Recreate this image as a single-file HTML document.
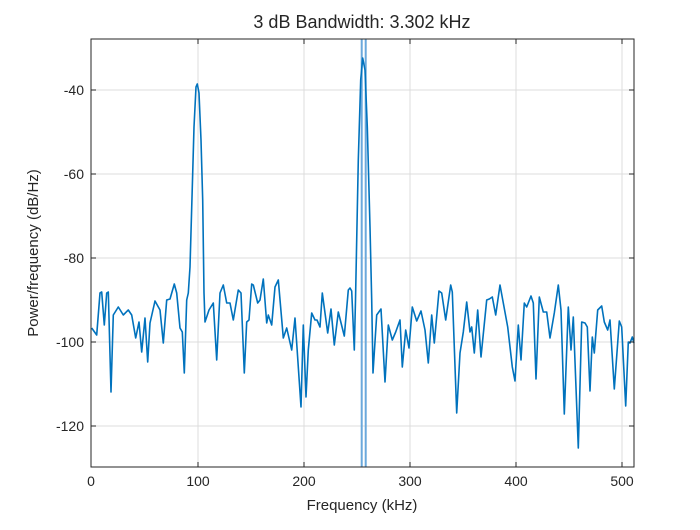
<!DOCTYPE html>
<html><head><style>
body{margin:0;background:#fff;}
svg text{font-family:"Liberation Sans",sans-serif;fill:#262626;}
</style></head><body>
<svg width="700" height="525" viewBox="0 0 700 525" xmlns="http://www.w3.org/2000/svg">
<rect width="700" height="525" fill="#fff"/>
<g stroke="#dcdcdc" stroke-width="1">
<line x1="198" y1="39" x2="198" y2="467"/><line x1="304" y1="39" x2="304" y2="467"/>
<line x1="410" y1="39" x2="410" y2="467"/><line x1="516" y1="39" x2="516" y2="467"/>
<line x1="622" y1="39" x2="622" y2="467"/>
<line x1="91" y1="90" x2="634" y2="90"/><line x1="91" y1="174" x2="634" y2="174"/>
<line x1="91" y1="258" x2="634" y2="258"/><line x1="91" y1="342" x2="634" y2="342"/>
<line x1="91" y1="426" x2="634" y2="426"/>
</g>
<g stroke="#6aa8dc" stroke-width="2">
<line x1="361.7" y1="39" x2="361.7" y2="467"/><line x1="365.7" y1="39" x2="365.7" y2="467"/>
</g>
<polyline fill="none" stroke="#0072BD" stroke-width="1.6" stroke-linejoin="round" points="
91.7,328 96.7,335 100,293 101.7,292 104.3,325 106.7,293 108.3,292 111,392 113.3,315 118.3,307 123.3,315 128.3,310 131.7,315 135.7,338 139,322 141.7,352 145,318 147.7,362 150,323 155,301 160,310 163.3,343 166.7,300 170,299 174.3,284 176.7,293 180,328 182.3,332 184.3,373 186.7,300 188.3,293 190,267 192.7,173 194,127 196,87 197.3,84 199,93 201,140 202.7,200 204,293 205,322 209,310 213.3,303 216.7,360 220,293 223.3,285 226.7,303 230,303 233.3,320 238.3,290 241,293 244.3,373 246.7,322 249,320 251.7,284 253.3,285 257.7,303 260,300 263.3,279 266.7,323 268.3,315 271.7,325 275,287 278.3,280 283.3,338 286.7,328 291.7,350 295,318 301,407 303.3,325 306,397 308.3,350 311.7,313 315,320 317,320 320,327 322.3,293 327.7,333 331,309 334.3,345 338.3,312 344.3,336 348.3,290 350,288 351.7,291 354.3,350 355.5,300 358.3,160 360.7,80 362.7,58 365,70 367.3,127 370,227 371.7,300 373,373 376.7,315 381,309 385,382 388.3,325 392.3,340 395.7,332 400,320 402.3,367 405.7,330 409,348 412.3,307 416.7,321 421,311 425,330 428.3,363 431.7,315 434.3,343 439,291 441.7,293 445.7,320 450.7,285 452.3,292 456.7,413 460,353 463.3,332 466.7,302 470,332 471.7,327 474.3,353 477.7,310 481,357 486.7,300 489.3,299 492.3,297 495.7,315 500,285 503.3,303 507.7,327 512.3,367 515,381 518.3,325 521,360 524.3,303 526.7,307 531,296 533.3,303 536,379 539.3,297 543.3,312 546.7,312 550,338 554.3,313 558.3,285 561,310 564.3,414 568.3,307 571,350 573.3,317 578.3,448 581.7,322 585,323 587.3,327 590,391 592.3,337 594.3,353 597.7,310 601.7,306 604.3,322 607.7,330 610,320 614.3,389 619.3,321 621.7,327 625.7,406 628.3,342 630,343 632.3,337 634,343"/>
<rect x="91" y="39" width="543" height="428" fill="none" stroke="#262626" stroke-width="1"/>
<g stroke="#262626" stroke-width="1">
<line x1="198" y1="467" x2="198" y2="462"/><line x1="304" y1="467" x2="304" y2="462"/>
<line x1="410" y1="467" x2="410" y2="462"/><line x1="516" y1="467" x2="516" y2="462"/>
<line x1="622" y1="467" x2="622" y2="462"/>
<line x1="198" y1="39" x2="198" y2="44"/><line x1="304" y1="39" x2="304" y2="44"/>
<line x1="410" y1="39" x2="410" y2="44"/><line x1="516" y1="39" x2="516" y2="44"/>
<line x1="622" y1="39" x2="622" y2="44"/>
<line x1="91" y1="90" x2="96" y2="90"/><line x1="91" y1="174" x2="96" y2="174"/>
<line x1="91" y1="258" x2="96" y2="258"/><line x1="91" y1="342" x2="96" y2="342"/>
<line x1="91" y1="426" x2="96" y2="426"/>
<line x1="634" y1="90" x2="629" y2="90"/><line x1="634" y1="174" x2="629" y2="174"/>
<line x1="634" y1="258" x2="629" y2="258"/><line x1="634" y1="342" x2="629" y2="342"/>
<line x1="634" y1="426" x2="629" y2="426"/>
</g>
<g font-size="14" text-anchor="middle">
<text x="91" y="486">0</text><text x="198" y="486">100</text><text x="304" y="486">200</text>
<text x="410" y="486">300</text><text x="516" y="486">400</text><text x="622" y="486">500</text>
</g>
<g font-size="14" text-anchor="end">
<text x="84" y="95">-40</text><text x="84" y="179">-60</text><text x="84" y="263">-80</text>
<text x="84" y="347">-100</text><text x="84" y="431">-120</text>
</g>
<text x="362" y="510" font-size="15" text-anchor="middle">Frequency (kHz)</text>
<text transform="translate(38,253) rotate(-90)" font-size="15" text-anchor="middle">Power/frequency (dB/Hz)</text>
<text x="362" y="28" font-size="18" text-anchor="middle">3 dB Bandwidth: 3.302 kHz</text>
</svg>
</body></html>
